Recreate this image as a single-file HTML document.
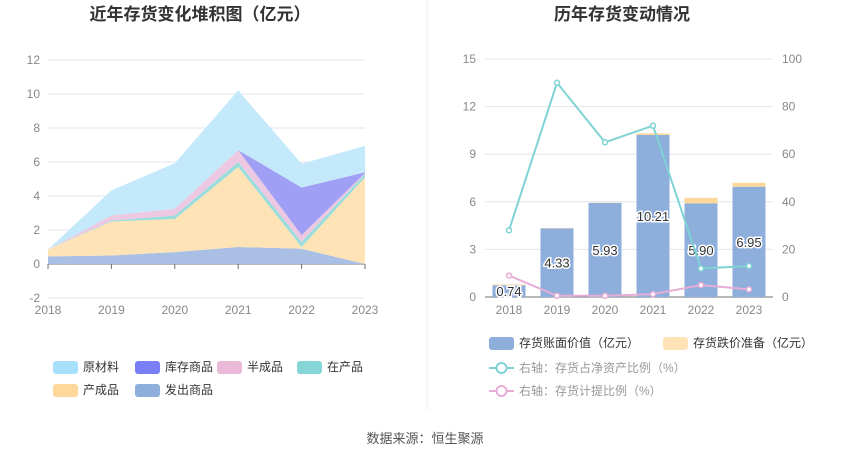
<!DOCTYPE html>
<html><head><meta charset="utf-8"><style>
body{margin:0;background:#fff;font-family:"Liberation Sans","Noto Sans CJK SC",sans-serif}
svg text{font-family:"Liberation Sans","Noto Sans CJK SC",sans-serif}
</style></head><body>
<svg id="s" width="850" height="459" xmlns="http://www.w3.org/2000/svg">
<text x="200" y="20" text-anchor="middle" font-size="17" font-weight="bold" fill="#333">近年存货变化堆积图（亿元）</text>
<text x="622" y="20" text-anchor="middle" font-size="17" font-weight="bold" fill="#333">历年存货变动情况</text>
<line x1="427" y1="0" x2="427" y2="410" stroke="#eee"/>
<g id="L"></g>
<g id="R"></g>
<text x="425" y="443" text-anchor="middle" font-size="13" fill="#555">数据来源：恒生聚源</text>
</svg>
<script>
const years=['2018','2019','2020','2021','2022','2023'];
const faChu=[0.45,0.5,0.7,1.0,0.9,0.0];
const chanCheng=[0.4,2.0,1.95,4.7,0.1,5.1];
const zaiChan=[0,0.05,0.2,0.3,0.3,0.2];
const banCheng=[0,0.3,0.4,0.7,0.4,0.05];
const kuCun=[0,0,0,0,2.8,0.05];
const yuanCai=[0,1.48,2.68,3.51,1.4,1.55];
const leftTicks=[-2,0,2,4,6,8,10,12];
const bookValue=[0.74,4.33,5.93,10.21,5.90,6.95];
const reserve=[0.05,0.02,0.02,0.1,0.35,0.25];
const ratioAsset=[28,90,65,72,12,13];
const ratioProv=[9,0.5,0.5,1.2,5,3.2];
const rLeftTicks=[0,3,6,9,12,15];
const rRightTicks=[0,20,40,60,80,100];
const NS='http://www.w3.org/2000/svg';
function mk(p,t,a){const e=document.createElementNS(NS,t);for(const k in a)e.setAttribute(k,a[k]);p.appendChild(e);return e;}
// left
const L=document.getElementById('L');
const lx=i=>48+i*(365-48)/5, ly=v=>264-v*17;
leftTicks.forEach(t=>{const g=mk(L,'line',{x1:48,x2:365,y1:ly(t),y2:ly(t),stroke:'#e0e6f1'});
const tx=mk(L,'text',{x:40,y:ly(t)+4,'text-anchor':'end','font-size':12,fill:'#888'});tx.textContent=t;});
mk(L,'line',{x1:48,x2:365,y1:ly(0),y2:ly(0),stroke:'#6e7079'});
const series=[[faChu,'#a9bfe3','发出商品'],[chanCheng,'#fde3b6','产成品'],[zaiChan,'#9bdddd','在产品'],[banCheng,'#ecc8e2','半成品'],[kuCun,'#9fa0f5','库存商品'],[yuanCai,'#c3e9fb','原材料']];
let base=years.map(()=>0);
series.forEach(([d,c,n])=>{const top=base.map((b,i)=>b+d[i]);
let pts=top.map((v,i)=>lx(i)+','+ly(v)).concat(base.map((v,i)=>lx(i)+','+ly(v)).reverse());
const p=mk(L,'polygon',{points:pts.join(' '),fill:c});base=top;});
years.forEach((y,i)=>{mk(L,'line',{x1:lx(i),x2:lx(i),y1:264,y2:269,stroke:'#6e7079'});const t=mk(L,'text',{x:lx(i),y:314,'text-anchor':'middle','font-size':12,fill:'#888'});t.textContent=y;});
const leg=[['原材料','#a6e0fb',53,367],['库存商品','#7b7ff5',135,367],['半成品','#ebbad9',217,367],['在产品','#86d6d8',297,367],['产成品','#fdd89a',53,390],['发出商品','#8eaedc',135,390]];
leg.forEach(([n,c,x,y])=>{const g=mk(L,'g',{});mk(g,'rect',{x:x,y:y-6,width:25,height:13,rx:3,fill:c});const t=mk(g,'text',{x:x+30,y:y+4,'font-size':12,fill:'#333'});t.textContent=n;});
// right
const R=document.getElementById('R');
const rx=i=>509+i*48, ry=v=>297-v*(238/15), ry2=v=>297-v*2.38;
rLeftTicks.forEach((t,k)=>{mk(R,'line',{x1:485,x2:773,y1:ry(t),y2:ry(t),stroke:'#e0e6f1'});
const a=mk(R,'text',{x:476,y:ry(t)+4,'text-anchor':'end','font-size':12,fill:'#888'});a.textContent=t;
const b=mk(R,'text',{x:782,y:ry2(rRightTicks[k])+4,'font-size':12,fill:'#888'});b.textContent=rRightTicks[k];});
mk(R,'line',{x1:485,x2:773,y1:297,y2:297,stroke:'#6e7079'});
years.forEach((y,i)=>{const b=mk(R,'rect',{x:rx(i)-16.5,y:ry(bookValue[i]),width:33,height:ry(0)-ry(bookValue[i]),fill:'#8eaedc'});
const r=mk(R,'rect',{x:rx(i)-16.5,y:ry(bookValue[i]+reserve[i]),width:33,height:ry(0)-ry(reserve[i]),fill:'#fdd89a'});
const t=mk(R,'text',{x:rx(i),y:ry(bookValue[i]/2)+5,'text-anchor':'middle','font-size':13,fill:'#333',stroke:'#fff','stroke-width':3,'paint-order':'stroke'});t.textContent=bookValue[i].toFixed(2);
const x=mk(R,'text',{x:rx(i),y:314,'text-anchor':'middle','font-size':12,fill:'#888'});x.textContent=y;});
[[ratioAsset,'#7fd3d4','line-asset-ratio'],[ratioProv,'#e6add6','line-provision-ratio']].forEach(([d,c,n])=>{const pl=mk(R,'polyline',{points:d.map((v,i)=>rx(i)+','+ry2(v)).join(' '),fill:'none',stroke:c,'stroke-width':2});
d.forEach((v,i)=>{const p=mk(R,'circle',{cx:rx(i),cy:ry2(v),r:2.5,fill:'#fff',stroke:c,'stroke-width':1.5});});});
const rl=[['存货账面价值（亿元）','#8eaedc',489,343,0],['存货跌价准备（亿元）','#fde3b6',663,343,0],['右轴：存货占净资产比例（%）','#7fd3d4',489,368,1],['右轴：存货计提比例（%）','#e6add6',489,391,1]];
rl.forEach(([n,c,x,y,ln])=>{const g=mk(R,'g',{});
if(ln){mk(g,'line',{x1:x,x2:x+25,y1:y,y2:y,stroke:c,'stroke-width':2});mk(g,'circle',{cx:x+12.5,cy:y,r:5,fill:'#fff',stroke:c,'stroke-width':2});}
else mk(g,'rect',{x:x,y:y-6,width:25,height:13,rx:3,fill:c});
const t=mk(g,'text',{x:x+30,y:y+4,'font-size':12,fill:ln?'#999':'#333'});t.textContent=n;});
</script>
</body></html>
